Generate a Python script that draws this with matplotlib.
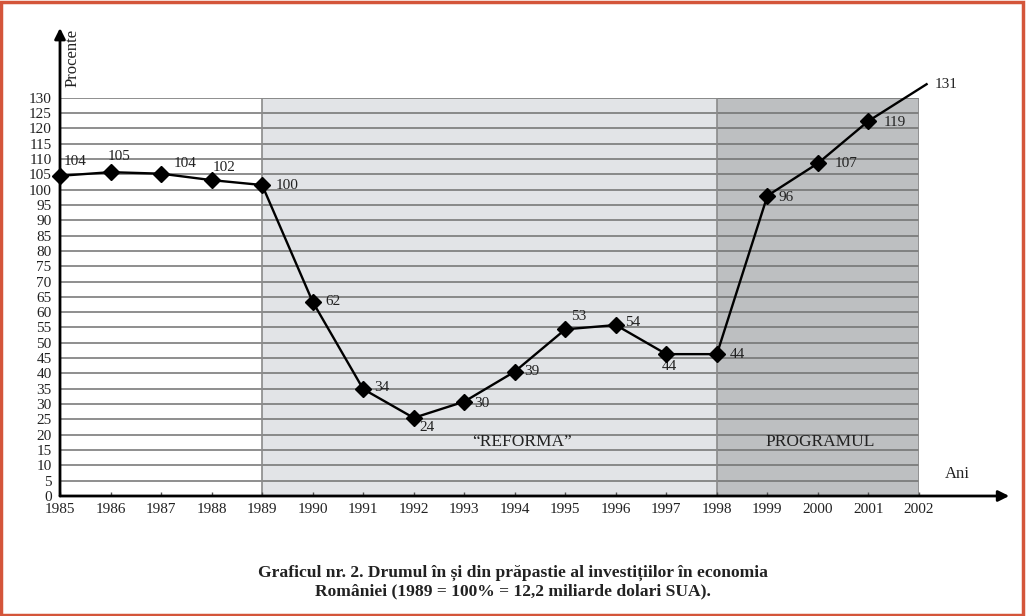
import matplotlib
matplotlib.use("Agg")
import matplotlib.pyplot as plt
from matplotlib.patches import Rectangle

plt.rcParams['font.family'] = ['Liberation Serif', 'DejaVu Serif']

years = [1985, 1986, 1987, 1988, 1989, 1990, 1991, 1992, 1993, 1994, 1995,
         1996, 1997, 1998, 1999, 2000, 2001, 2002.15]
values = [104.5, 105.7, 105.2, 103.1, 101.5, 63.4, 34.9, 25.5, 30.8, 40.6, 54.4,
          55.8, 46.3, 46.3, 98.0, 108.6, 122.4, 134.4]
labels = ["104", "105", "104", "102", "100", "62", "34", "24", "30", "39", "53",
          "54", "44", "44", "96", "107", "119", "131"]
year_ticks = list(range(1985, 2003))
y_ticks = list(range(0, 131, 5))

# label offsets in points (dx, dy)
offsets = [(3, 10), (-2, 11), (9, 7), (1, 9), (10, 0), (9, 0), (8, 1), (4, -7),
           (7, -1), (7, 0), (4, 9), (7, 2), (-3, -9), (9, 0), (8, -1), (12, 0),
           (11, -1), (6, 0)]

fig = plt.figure(figsize=(10.26, 6.16), dpi=100)
ax = fig.add_axes([60/1026, 1-496/616, 859/1026, 398.3/616])
ax.set_xlim(1985, 2002)
ax.set_ylim(0, 130)

# shaded periods
ax.axvspan(1989, 1998, color='#e2e4e7', zorder=0, lw=0)
ax.axvspan(1998, 2002, color='#bdbfc1', zorder=0, lw=0)

# horizontal grid
for v in y_ticks[1:]:
    ax.plot([1985, 2002], [v, v], color='#707070', lw=1.1, zorder=1)
for yr in [1989, 1998, 2002]:
    ax.plot([yr, yr], [0, 130], color='#8a8a8a', lw=1.2, zorder=1)

# main line
ax.plot(years[:-1], values[:-1], color='black', lw=1.7, marker='D', markersize=8.5,
        zorder=4, clip_on=False)
ax.plot(years[-2:], values[-2:], color='black', lw=1.7, zorder=4, clip_on=False)

for x, v, t, (dx, dy) in zip(years, values, labels, offsets):
    ax.annotate(t, (x, v), xytext=(dx, dy), textcoords='offset points',
                ha='left', va='center', fontsize=11, color='#222222',
                annotation_clip=False)

ax.text(1994.15, 17.6, "\u201cREFORMA\u201d", ha='center', va='center', fontsize=12.5, color='#222222')
ax.text(2000.05, 17.6, "PROGRAMUL", ha='center', va='center', fontsize=12.5, color='#222222')

# axes with arrows
for s in ax.spines.values():
    s.set_visible(False)
ax.annotate('', xy=(0, 1.175), xytext=(0, 0), xycoords='axes fraction',
            arrowprops=dict(arrowstyle='-|>', lw=2, color='black', mutation_scale=16,
                            shrinkA=0, shrinkB=0))
ax.annotate('', xy=(1.105, 0), xytext=(0, 0), xycoords='axes fraction',
            arrowprops=dict(arrowstyle='-|>', lw=2, color='black', mutation_scale=16,
                            shrinkA=0, shrinkB=0))

ax.set_xticks(year_ticks)
ax.set_xticklabels([str(y) for y in year_ticks], fontsize=11, color='#222222')
ax.set_yticks(y_ticks)
ax.set_yticklabels([str(v) for v in y_ticks], fontsize=11, color='#222222')
ax.tick_params(axis='x', direction='in', length=3, width=1, color='#555555', pad=5)
ax.tick_params(axis='y', length=0, pad=6)

fig.text(73/1026, 1-58/616, "Procente", rotation=90, ha='center', va='center', fontsize=12, color='#222222')
fig.text(957/1026, 1-474/616, "Ani", ha='center', va='center', fontsize=12, color='#222222')

fig.text(0.5, 1-582/616,
         "Graficul nr. 2. Drumul \u00een \u0219i din pr\u0103pastie al investi\u021biilor \u00een economia\n"
         "Rom\u00e2niei (1989 = 100% = 12,2 miliarde dolari SUA).",
         ha='center', va='center', fontsize=12.6, fontweight='bold', color='#222222', linespacing=1.2)

fig.patches.append(Rectangle((0.001, 0.002), 0.996, 0.995, transform=fig.transFigure,
                             fill=False, edgecolor='#d4553a', lw=2.5))

fig.savefig("out.png", dpi=100)
